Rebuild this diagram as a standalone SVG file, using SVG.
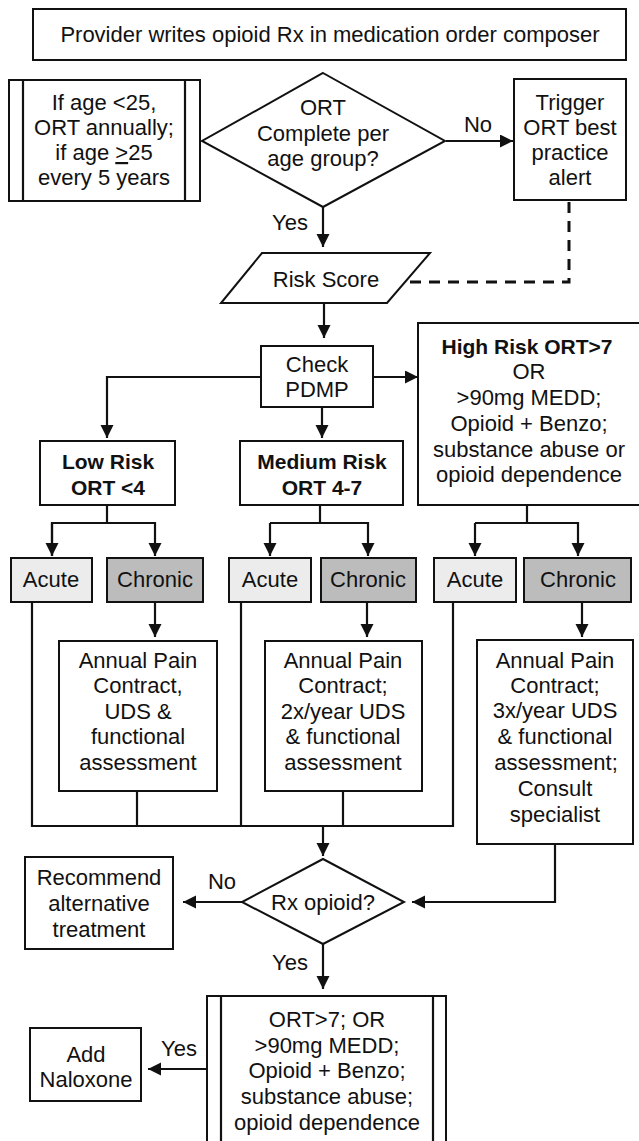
<svg xmlns="http://www.w3.org/2000/svg" width="639" height="1141" viewBox="0 0 639 1141">
<style>
.box{fill:#fff;stroke:#111;stroke-width:2}
.acute{fill:#ececec;stroke:#111;stroke-width:2}
.chronic{fill:#bcbcbc;stroke:#111;stroke-width:2}
.ln{fill:none;stroke:#111;stroke-width:2.2}
.dash{fill:none;stroke:#111;stroke-width:3;stroke-dasharray:11 8}
text{font-family:"Liberation Sans",Arial,Helvetica,sans-serif;font-size:22px;fill:#111;text-anchor:middle}
.b{font-weight:bold;font-size:21px}
</style>
<defs>
<marker id="ah" markerUnits="userSpaceOnUse" markerWidth="14" markerHeight="14" refX="13" refY="6.5" orient="auto">
<path d="M0,0 L13,6.5 L0,13 z" fill="#111"/>
</marker>
</defs>
<rect width="639" height="1141" fill="#fff"/>

<g id="connectors">
<line class="ln" x1="446" y1="141" x2="513" y2="141" marker-end="url(#ah)"/>
<line class="ln" x1="323" y1="207" x2="323" y2="247" marker-end="url(#ah)"/>
<polyline class="dash" points="410,282 569,282 569,201"/>
<line class="ln" x1="324" y1="303" x2="324" y2="338" marker-end="url(#ah)"/>
<polyline class="ln" points="261,377 107,377 107,438" marker-end="url(#ah)"/>
<line class="ln" x1="373" y1="377" x2="418" y2="377" marker-end="url(#ah)"/>
<line class="ln" x1="322" y1="407" x2="322" y2="438" marker-end="url(#ah)"/>
<polyline class="ln" points="107,505 107,523"/>
<polyline class="ln" points="52,556 52,523 155,523 155,556" marker-end="url(#ah)"/>
<line class="ln" x1="52" y1="523" x2="52" y2="556" marker-end="url(#ah)"/>
<polyline class="ln" points="320,505 320,523"/>
<polyline class="ln" points="270,523 368,523 368,556" marker-end="url(#ah)"/>
<line class="ln" x1="270" y1="523" x2="270" y2="556" marker-end="url(#ah)"/>
<polyline class="ln" points="527,505 527,523"/>
<polyline class="ln" points="475,523 578,523 578,556" marker-end="url(#ah)"/>
<line class="ln" x1="475" y1="523" x2="475" y2="556" marker-end="url(#ah)"/>
<line class="ln" x1="155" y1="602" x2="155" y2="637" marker-end="url(#ah)"/>
<line class="ln" x1="367" y1="602" x2="367" y2="637" marker-end="url(#ah)"/>
<line class="ln" x1="582" y1="602" x2="582" y2="637" marker-end="url(#ah)"/>
<polyline class="ln" points="32,602 32,826 453,826 453,602"/>
<line class="ln" x1="241" y1="602" x2="241" y2="826"/>
<line class="ln" x1="137" y1="791" x2="137" y2="826"/>
<line class="ln" x1="343" y1="791" x2="343" y2="826"/>
<line class="ln" x1="323" y1="826" x2="323" y2="856" marker-end="url(#ah)"/>
<polyline class="ln" points="555,844 555,902 412,902" marker-end="url(#ah)"/>
<line class="ln" x1="242" y1="902" x2="183" y2="902" marker-end="url(#ah)"/>
<line class="ln" x1="323" y1="944" x2="323" y2="989" marker-end="url(#ah)"/>
<line class="ln" x1="207" y1="1069" x2="148" y2="1069" marker-end="url(#ah)"/>
<text x="478" y="132">No</text>
<text x="290" y="230">Yes</text>
<text x="222" y="889">No</text>
<text x="290" y="970">Yes</text>
<text x="179" y="1056">Yes</text>
</g>

<g id="start">
<rect class="box" x="33" y="9" width="593" height="51"/>
<text x="330" y="42">Provider writes opioid Rx in medication order composer</text>
</g>

<g id="age-rule">
<rect class="box" x="9" y="80" width="191" height="121"/>
<line class="ln" x1="23" y1="80" x2="23" y2="201"/>
<line class="ln" x1="185" y1="80" x2="185" y2="201"/>
<text x="104" y="110">If age &lt;25,</text>
<text x="104" y="135">ORT annually;</text>
<text x="104" y="160">if age <tspan text-decoration="underline">&gt;</tspan>25</text>
<text x="104" y="185">every 5 years</text>
</g>

<g id="ort-complete">
<polygon class="box" points="323,73 445,141 323,207 202,141"/>
<text x="323" y="115">ORT</text>
<text x="323" y="141">Complete per</text>
<text x="323" y="166">age group?</text>
</g>

<g id="trigger-bpa">
<rect class="box" x="514" y="79" width="112" height="121"/>
<text x="570" y="110">Trigger</text>
<text x="570" y="135">ORT best</text>
<text x="570" y="160">practice</text>
<text x="570" y="185">alert</text>
</g>

<g id="risk-score">
<polygon class="box" points="262,253 430,253 387,303 221,303"/>
<text x="326" y="287">Risk Score</text>
</g>

<g id="check-pdmp">
<rect class="box" x="261" y="346" width="112" height="61"/>
<text x="317" y="372">Check</text>
<text x="317" y="397">PDMP</text>
</g>

<g id="high-risk">
<rect class="box" x="418" y="323" width="222" height="182"/>
<text class="b" x="527" y="354">High Risk ORT&gt;7</text>
<text x="529" y="379">OR</text>
<text x="529" y="405">&gt;90mg MEDD;</text>
<text x="529" y="431">Opioid + Benzo;</text>
<text x="529" y="457">substance abuse or</text>
<text x="529" y="482">opioid dependence</text>
</g>

<g id="low-risk">
<rect class="box" x="40" y="441" width="135" height="64"/>
<text class="b" x="108" y="469">Low Risk</text>
<text class="b" x="108" y="495">ORT &lt;4</text>
</g>

<g id="medium-risk">
<rect class="box" x="240" y="441" width="163" height="64"/>
<text class="b" x="322" y="469">Medium Risk</text>
<text class="b" x="322" y="495">ORT 4-7</text>
</g>

<g id="low-acute">
<rect class="acute" x="11" y="558" width="81" height="44"/>
<text x="51" y="587">Acute</text>
</g>
<g id="low-chronic">
<rect class="chronic" x="107" y="558" width="96" height="44"/>
<text x="155" y="587">Chronic</text>
</g>
<g id="med-acute">
<rect class="acute" x="229" y="558" width="82" height="44"/>
<text x="270" y="587">Acute</text>
</g>
<g id="med-chronic">
<rect class="chronic" x="321" y="558" width="95" height="44"/>
<text x="368" y="587">Chronic</text>
</g>
<g id="high-acute">
<rect class="acute" x="434" y="558" width="82" height="44"/>
<text x="475" y="587">Acute</text>
</g>
<g id="high-chronic">
<rect class="chronic" x="524" y="558" width="107" height="44"/>
<text x="578" y="587">Chronic</text>
</g>

<g id="low-plan">
<rect class="box" x="59" y="641" width="158" height="150"/>
<text x="138" y="668">Annual Pain</text>
<text x="138" y="693">Contract,</text>
<text x="138" y="719">UDS &amp;</text>
<text x="138" y="744">functional</text>
<text x="138" y="770">assessment</text>
</g>

<g id="med-plan">
<rect class="box" x="265" y="641" width="157" height="150"/>
<text x="343" y="668">Annual Pain</text>
<text x="343" y="693">Contract;</text>
<text x="343" y="719">2x/year UDS</text>
<text x="343" y="744">&amp; functional</text>
<text x="343" y="770">assessment</text>
</g>

<g id="high-plan">
<rect class="box" x="477" y="640" width="156" height="204"/>
<text x="555" y="668">Annual Pain</text>
<text x="555" y="693">Contract;</text>
<text x="555" y="718">3x/year UDS</text>
<text x="555" y="744">&amp; functional</text>
<text x="556" y="770">assessment;</text>
<text x="555" y="796">Consult</text>
<text x="555" y="822">specialist</text>
</g>

<g id="rx-opioid">
<polygon class="box" points="323,859 404,902 323,944 242,902"/>
<text x="323" y="910">Rx opioid?</text>
</g>

<g id="recommend-alt">
<rect class="box" x="25" y="857" width="148" height="92"/>
<text x="99" y="885">Recommend</text>
<text x="99" y="911">alternative</text>
<text x="99" y="937">treatment</text>
</g>

<g id="naloxone-criteria">
<rect class="box" x="207" y="996" width="239" height="160"/>
<line class="ln" x1="221" y1="996" x2="221" y2="1141"/>
<line class="ln" x1="433" y1="996" x2="433" y2="1141"/>
<text x="327" y="1027">ORT&gt;7; OR</text>
<text x="327" y="1053">&gt;90mg MEDD;</text>
<text x="327" y="1078">Opioid + Benzo;</text>
<text x="327" y="1104">substance abuse;</text>
<text x="327" y="1130">opioid dependence</text>
</g>

<g id="add-naloxone">
<rect class="box" x="30" y="1028" width="111" height="73"/>
<text x="86" y="1062">Add</text>
<text x="86" y="1087">Naloxone</text>
</g>
</svg>
